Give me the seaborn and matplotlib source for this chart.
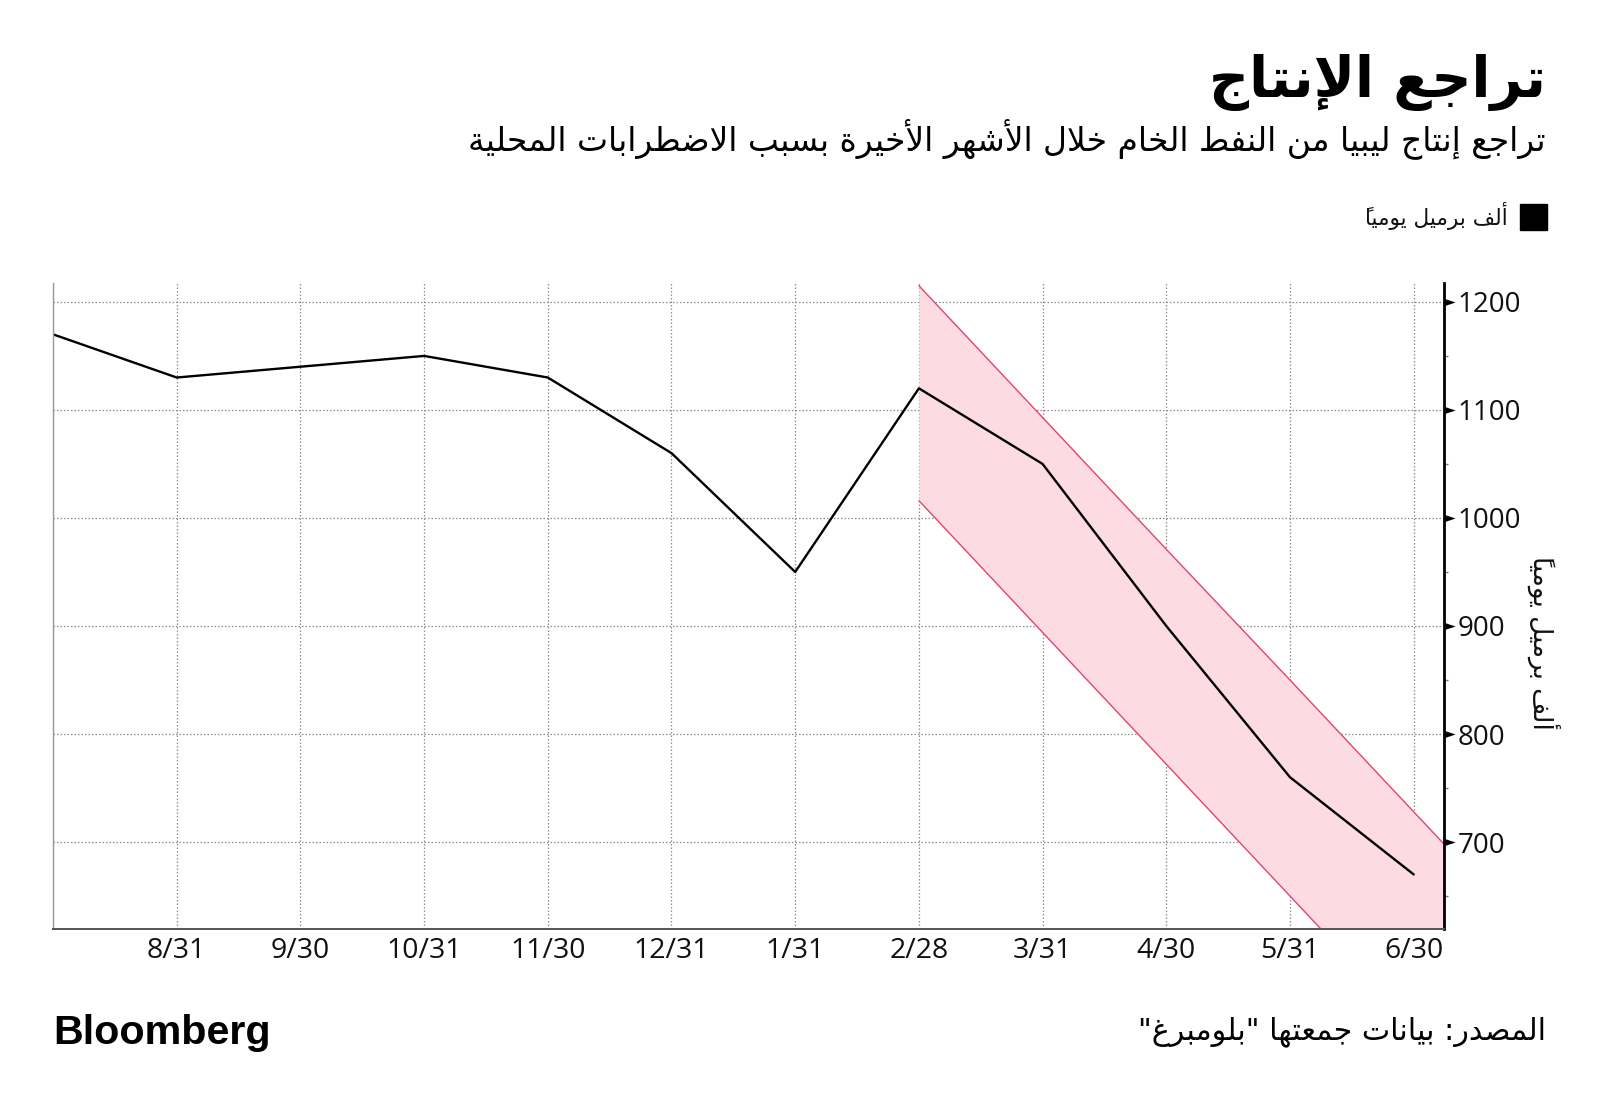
import matplotlib
matplotlib.use("Agg")
import matplotlib.pyplot as plt
import seaborn as sns
import pandas as pd
import numpy as np
from matplotlib.path import Path
from matplotlib.ticker import FixedLocator

# ---------------- data ----------------
months = ["7/31", "8/31", "9/30", "10/31", "11/30", "12/31", "1/31", "2/28", "3/31", "4/30", "5/31", "6/30"]
production = [1170, 1130, 1140, 1150, 1130, 1060, 950, 1120, 1050, 900, 760, 670]
band_months = ["2/28", "3/31", "4/30", "5/31", "6/30", "7/31+"]
band_upper = [1215, 1093, 971, 850, 728, 606]
band_lower = [1016, 894, 772, 650, 528, 406]
y_ticks = [700, 800, 900, 1000, 1100, 1200]

title = "تراجع الإنتاج"
subtitle = "تراجع إنتاج ليبيا من النفط الخام خلال الأشهر الأخيرة بسبب الاضطرابات المحلية"
unit = "ألف برميل يومياً"
source = "المصدر: بيانات جمعتها \"بلومبرغ\""
logo = "Bloomberg"

# ------------- simple Arabic shaping (presentation forms + visual order) -------------
F = {
    '\u0621': ('\uFE80', None, None, None),
    '\u0622': ('\uFE81', '\uFE82', None, None),
    '\u0623': ('\uFE83', '\uFE84', None, None),
    '\u0624': ('\uFE85', '\uFE86', None, None),
    '\u0625': ('\uFE87', '\uFE88', None, None),
    '\u0626': ('\uFE89', '\uFE8A', '\uFE8B', '\uFE8C'),
    '\u0627': ('\uFE8D', '\uFE8E', None, None),
    '\u0628': ('\uFE8F', '\uFE90', '\uFE91', '\uFE92'),
    '\u0629': ('\uFE93', '\uFE94', None, None),
    '\u062A': ('\uFE95', '\uFE96', '\uFE97', '\uFE98'),
    '\u062B': ('\uFE99', '\uFE9A', '\uFE9B', '\uFE9C'),
    '\u062C': ('\uFE9D', '\uFE9E', '\uFE9F', '\uFEA0'),
    '\u062D': ('\uFEA1', '\uFEA2', '\uFEA3', '\uFEA4'),
    '\u062E': ('\uFEA5', '\uFEA6', '\uFEA7', '\uFEA8'),
    '\u062F': ('\uFEA9', '\uFEAA', None, None),
    '\u0630': ('\uFEAB', '\uFEAC', None, None),
    '\u0631': ('\uFEAD', '\uFEAE', None, None),
    '\u0632': ('\uFEAF', '\uFEB0', None, None),
    '\u0633': ('\uFEB1', '\uFEB2', '\uFEB3', '\uFEB4'),
    '\u0634': ('\uFEB5', '\uFEB6', '\uFEB7', '\uFEB8'),
    '\u0635': ('\uFEB9', '\uFEBA', '\uFEBB', '\uFEBC'),
    '\u0636': ('\uFEBD', '\uFEBE', '\uFEBF', '\uFEC0'),
    '\u0637': ('\uFEC1', '\uFEC2', '\uFEC3', '\uFEC4'),
    '\u0638': ('\uFEC5', '\uFEC6', '\uFEC7', '\uFEC8'),
    '\u0639': ('\uFEC9', '\uFECA', '\uFECB', '\uFECC'),
    '\u063A': ('\uFECD', '\uFECE', '\uFECF', '\uFED0'),
    '\u0641': ('\uFED1', '\uFED2', '\uFED3', '\uFED4'),
    '\u0642': ('\uFED5', '\uFED6', '\uFED7', '\uFED8'),
    '\u0643': ('\uFED9', '\uFEDA', '\uFEDB', '\uFEDC'),
    '\u0644': ('\uFEDD', '\uFEDE', '\uFEDF', '\uFEE0'),
    '\u0645': ('\uFEE1', '\uFEE2', '\uFEE3', '\uFEE4'),
    '\u0646': ('\uFEE5', '\uFEE6', '\uFEE7', '\uFEE8'),
    '\u0647': ('\uFEE9', '\uFEEA', '\uFEEB', '\uFEEC'),
    '\u0648': ('\uFEED', '\uFEEE', None, None),
    '\u0649': ('\uFEEF', '\uFEF0', None, None),
    '\u064A': ('\uFEF1', '\uFEF2', '\uFEF3', '\uFEF4'),
}
LAMALEF = {'\u0622': ('\uFEF5', '\uFEF6'), '\u0623': ('\uFEF7', '\uFEF8'),
           '\u0625': ('\uFEF9', '\uFEFA'), '\u0627': ('\uFEFB', '\uFEFC')}


def is_mark(c):
    return '\u064B' <= c <= '\u0652' or c == '\u0670'


def shape(text):
    ch = list(text)
    n = len(ch)

    def prev_base(i):
        j = i - 1
        while j >= 0 and is_mark(ch[j]):
            j -= 1
        return ch[j] if j >= 0 else None

    def next_idx(i):
        j = i + 1
        while j < n and is_mark(ch[j]):
            j += 1
        return j

    clusters = []
    i = 0
    while i < n:
        c = ch[i]
        if is_mark(c):
            if clusters:
                clusters[-1] += c
            else:
                clusters.append(c)
            i += 1
            continue
        if c in F:
            p = prev_base(i)
            pj = p is not None and p in F and F[p][2] is not None
            j = next_idx(i)
            nx = ch[j] if j < n else None
            if c == '\u0644' and nx in LAMALEF:
                g = LAMALEF[nx][1] if pj else LAMALEF[nx][0]
                marks = ''.join(ch[i + 1:j])
                clusters.append(g + marks)
                i = j + 1
                continue
            iso, fin, ini, med = F[c]
            pj = pj and fin is not None
            nj = ini is not None and nx is not None and nx in F and F[nx][1] is not None
            if pj and nj:
                g = med
            elif pj:
                g = fin
            elif nj:
                g = ini
            else:
                g = iso
            clusters.append(g)
        else:
            clusters.append(c)
        i += 1
    # visual order: marks drawn just before their base (zero-advance glyphs)
    return ''.join(c[::-1] for c in reversed(clusters))


# ---------------- figure ----------------
sns.set_theme(style="white")
plt.rcParams['font.family'] = ['DejaVu Sans']

W, H = 1600, 1111
fig = plt.figure(figsize=(W / 100, H / 100), dpi=100)
fig.patch.set_facecolor("white")

ax_l, ax_r, ax_t, ax_b = 53, 1444, 283, 929
ax = fig.add_axes([ax_l / W, 1 - ax_b / H, (ax_r - ax_l) / W, (ax_b - ax_t) / H])
ax.set_facecolor("white")

pos = {m: i for i, m in enumerate(months)}
pos["7/31+"] = len(months)
df = pd.DataFrame({"x": [pos[m] for m in months], "value": production})
bdf = pd.DataFrame({"x": [pos[m] for m in band_months], "upper": band_upper, "lower": band_lower})

band_edge = "#e0466a"
band_fill = "#fddbe2"
ax.fill_between(bdf["x"], bdf["lower"], bdf["upper"], color=band_fill, lw=0, zorder=1)
sns.lineplot(data=bdf, x="x", y="upper", color=band_edge, lw=1.0, ax=ax, zorder=2)
sns.lineplot(data=bdf, x="x", y="lower", color=band_edge, lw=1.0, ax=ax, zorder=2)
sns.lineplot(data=df, x="x", y="value", color="black", lw=1.7, ax=ax, zorder=4)

ax.set_xlim(0, 11.245)
ax.set_ylim(619.5, 1217.5)

# grid
ax.set_xticks(range(len(months)))
ax.set_xticklabels([""] + months[1:])
ax.set_yticks(y_ticks)
ax.grid(True, which="major", color="#8c8c8c", linestyle=(0, (1.2, 1.6)), lw=0.9)
for gl in ax.get_xgridlines() + ax.get_ygridlines():
    gl.set_zorder(1.5)

ax.set_xlabel("")
ax.set_ylabel("")

# spines
ax.spines["top"].set_visible(False)
ax.spines["left"].set_color("#9a9a9a")
ax.spines["left"].set_linewidth(1.0)
ax.spines["bottom"].set_color("#555555")
ax.spines["bottom"].set_linewidth(1.4)
ax.spines["right"].set_color("black")
ax.spines["right"].set_linewidth(2.0)
for s in ax.spines.values():
    s.set_zorder(5)

tick_font = "Open Sans"
ax.tick_params(axis="x", which="major", length=0, pad=6, labelsize=20.5, labelcolor="#111111")
for lab in ax.get_xticklabels():
    lab.set_fontfamily(tick_font)

ax.yaxis.tick_right()
ax.yaxis.set_minor_locator(FixedLocator([650, 750, 850, 950, 1050, 1150]))
ax.tick_params(axis="y", which="major", right=True, left=False, length=16, width=0,
               pad=-6, labelsize=20, labelcolor="#111111", direction="out")
ax.tick_params(axis="y", which="minor", right=True, left=False, length=3, width=1,
               color="#777777", direction="out")
tri = Path([(0, -0.33), (1, 0), (0, 0.33), (0, -0.33)],
           [Path.MOVETO, Path.LINETO, Path.LINETO, Path.CLOSEPOLY])
for t in ax.yaxis.get_major_ticks():
    t.tick2line.set_marker(tri)
    t.tick2line.set_markerfacecolor("black")
    t.tick2line.set_markeredgecolor("black")
    t.tick2line.set_markeredgewidth(0)
for lab in ax.get_yticklabels():
    lab.set_fontfamily(tick_font)

# ---------------- texts ----------------
ar = ['DejaVu Sans']
fig.canvas.draw()
renderer = fig.canvas.get_renderer()


def fit(t, target, dim="w"):
    bb = t.get_window_extent(renderer)
    cur = bb.width if dim == "w" else bb.height
    t.set_fontsize(t.get_fontsize() * target / cur)


t_title = fig.text(1546 / W, 1 - 97 / H, shape(title), ha="right", va="baseline",
                   fontsize=40, fontweight="bold", family=ar, color="black")
fit(t_title, 337)
t_sub = fig.text(1546 / W, 1 - 150 / H, shape(subtitle), ha="right", va="baseline",
                 fontsize=22, family=ar, color="black")
fit(t_sub, 1075)

fig.patches.append(plt.Rectangle((1520 / W, 1 - 230 / H), 27 / W, 26 / H,
                                 transform=fig.transFigure, color="black"))
t_leg = fig.text(1508 / W, 1 - 216 / H, shape(unit), ha="right", va="center",
                 fontsize=14, family=ar, color="#111111")
fit(t_leg, 144)

t_yl = fig.text(1543 / W, 1 - 643 / H, shape(unit), ha="center", va="center",
                rotation=-90, fontsize=16, family=ar, color="#111111")
fit(t_yl, 174, "h")

t_src = fig.text(1546 / W, 1 - 1039 / H, shape(source), ha="right", va="baseline",
                 fontsize=20, family=ar, color="black")
fit(t_src, 408)

t_logo = fig.text(53 / W, 1 - 1044 / H, logo, ha="left", va="baseline",
                  fontsize=28, fontweight="heavy", family=["Liberation Sans", "DejaVu Sans"],
                  color="black")
fit(t_logo, 218)

fig.savefig("out.png", dpi=100, facecolor="white")
